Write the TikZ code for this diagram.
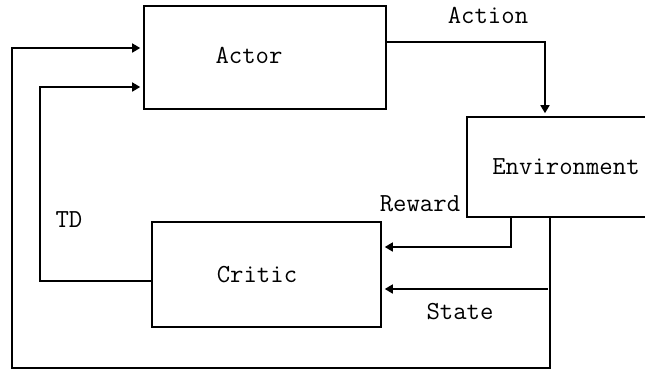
\documentclass[tikz,border=0pt]{standalone}
\usepackage{tikz}
\usetikzlibrary{arrows.meta,positioning}

\begin{document}
\begin{tikzpicture}[x=0.5pt,y=-0.5pt,line width=0.8pt,
  box/.style={draw=black,line width=0.8pt,inner sep=0pt},
  lbl/.style={font=\ttfamily\fontsize{13}{15}\selectfont,inner sep=0pt},
  arr/.style={-{Triangle[length=4pt,width=4.5pt]},shorten >=1.5pt}]
\useasboundingbox (0,0) rectangle (645,371);
% blocks
\node[box,minimum width=121pt,minimum height=51.5pt,label={[lbl,xshift=-8pt,yshift=1.25pt]center:Actor}] (actor) at (265,57.5) {};
\node[box,minimum width=114.5pt,minimum height=52.5pt,label={[lbl,xshift=-4.75pt]center:Critic}] (critic) at (266.5,274.5) {};
\node[box,minimum width=116.5pt,minimum height=50pt,label={[lbl,xshift=-8.75pt]center:Environment}] (env) at (583.5,167) {};
% corners
\coordinate (st_corner) at (12,368);
\coordinate (st_join) at (548,289);
\coordinate (td_corner) at (40,281);
% connectors
\draw[arr] ([yshift=7.75pt]actor.east) -| ([xshift=-19.25pt]env.north);
\draw[arr] ([xshift=-36.25pt]env.south) |- ([yshift=13.75pt]critic.east);
\draw[arr] ([xshift=-16.75pt]env.south) |- (st_corner) |- ([yshift=4.75pt]actor.west);
\draw[arr] (st_join) -- (critic.east |- st_join);
\draw[arr] ([yshift=-3.25pt]critic.west) -- (td_corner) |- ([yshift=-14.75pt]actor.west);
% signal labels
\node[lbl] (act_lbl) at (488,15) {Action};
\node[lbl] (rew_lbl) at (420,204) {Reward};
\node[lbl] (st_lbl) at (460,312) {State};
\node[lbl] (td_lbl) at (69,220) {TD};
\end{tikzpicture}
\end{document}
